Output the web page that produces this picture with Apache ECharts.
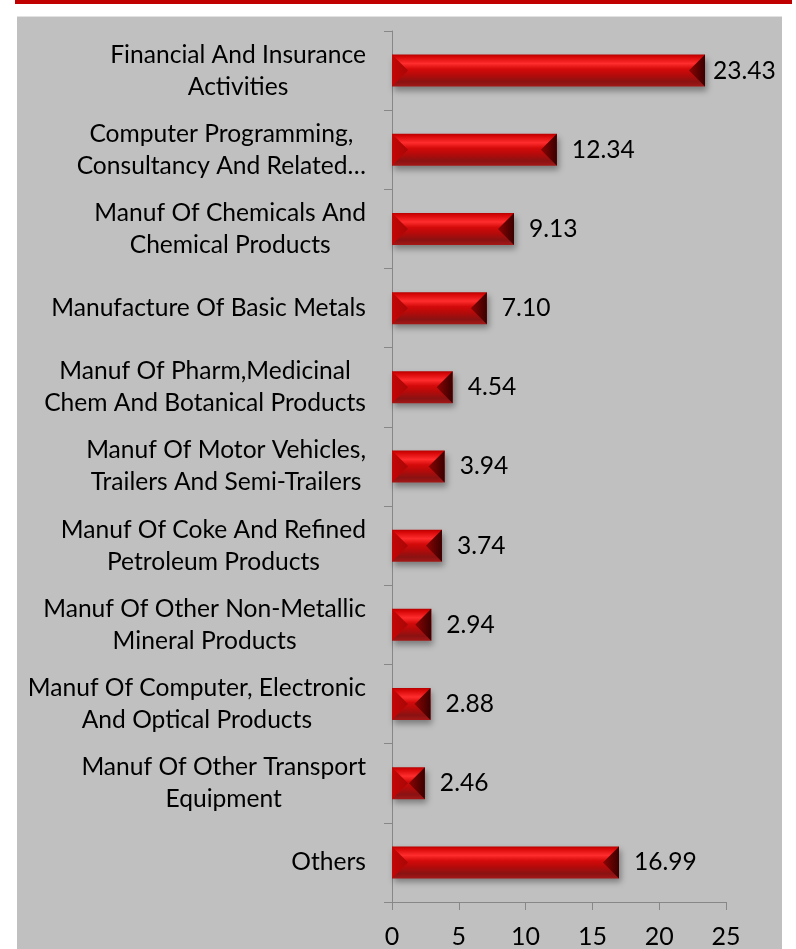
<!DOCTYPE html>
<html>
<head>
<meta charset="utf-8">
<script src="https://cdn.jsdelivr.net/npm/echarts@6/dist/echarts.min.js"></script>
<style>
  html, body { margin: 0; padding: 0; background: #ffffff; }
  #wrap { position: relative; width: 796px; height: 949px; overflow: hidden; }
  #topband { position: absolute; left: 15px; top: 0; width: 777px; height: 4px; background: #c00000; }
  #panel { position: absolute; left: 17px; top: 16px; width: 765px; height: 933px; background: #c0c0c0; border-top: 1px solid #e2e2e2; box-sizing: border-box; }
  #chart { position: absolute; left: 0; top: 0; width: 796px; height: 949px; }
</style>
</head>
<body>
<div id="wrap">
  <div id="topband"></div>
  <div id="panel"></div>
  <div id="chart"></div>
</div>
<script>
// Sectors, top to bottom
const categories = [
  "Financial And Insurance\nActivities",
  "Computer Programming,\nConsultancy And Related…",
  "Manuf Of Chemicals And\nChemical Products",
  "Manufacture Of Basic Metals",
  "Manuf Of Pharm,Medicinal\nChem And Botanical Products",
  "Manuf Of Motor Vehicles,\nTrailers And Semi-Trailers",
  "Manuf Of Coke And Refined\nPetroleum Products",
  "Manuf Of Other Non-Metallic\nMineral Products",
  "Manuf Of Computer, Electronic\nAnd Optical Products",
  "Manuf Of Other Transport\nEquipment",
  "Others"
];

// Share of each sector
const shares = [23.43, 12.34, 9.13, 7.10, 4.54, 3.94, 3.74, 2.94, 2.88, 2.46, 16.99];

// Value axis ticks
const axisMin = 0;
const axisMax = 25;
const axisStep = 5;

const FONT = 'Lato';
const FS = 24.6;
const BAR_H = 32;

const chart = echarts.init(document.getElementById('chart'), null, { renderer: 'canvas' });

const barFill = new echarts.graphic.LinearGradient(0, 0, 0, 1, [
  { offset: 0.00, color: '#b80000' },
  { offset: 0.08, color: '#d80808' },
  { offset: 0.28, color: '#ff2d2d' },
  { offset: 0.45, color: '#d40a0a' },
  { offset: 0.62, color: '#b80a0a' },
  { offset: 0.85, color: '#8a1212' },
  { offset: 1.00, color: '#a41818' }
]);

// Bevelled end caps on each bar
function renderCaps(params, api) {
  const v = api.value(0);
  const c = api.value(1);
  const p0 = api.coord([0, c]);
  const p1 = api.coord([v, c]);
  const half = BAR_H / 2;
  const yc = p0[1];
  const y0 = yc - half, y1 = yc + half;
  const x0 = p0[0], x1 = p1[0];
  const b = Math.min(half, (x1 - x0) / 2);
  return {
    type: 'group',
    children: [
      {
        type: 'polygon',
        shape: { points: [[x0, y0], [x0 + b, yc], [x0, y1]] },
        style: {
          fill: new echarts.graphic.LinearGradient(0, 0, 1, 0, [
            { offset: 0, color: '#c40606' },
            { offset: 1, color: '#a80606' }
          ])
        }
      },
      {
        type: 'polygon',
        shape: { points: [[x1, y0], [x1 - b, yc], [x1, y1]] },
        style: {
          fill: new echarts.graphic.LinearGradient(0, 0, 1, 0, [
            { offset: 0, color: '#8c0404' },
            { offset: 1, color: '#3a0000' }
          ])
        }
      }
    ]
  };
}

function catLabel(value) {
  return value.split('\n').map(function (s) { return '{c|' + s + '}'; }).join('\n');
}

chart.setOption({
  animation: false,
  backgroundColor: 'transparent',
  grid: { left: 392, right: 70, top: 31, bottom: 47, containLabel: false },
  xAxis: {
    type: 'value',
    min: axisMin,
    max: axisMax,
    interval: axisStep,
    splitLine: { show: false },
    axisLine: { show: true, lineStyle: { color: '#878787', width: 1 } },
    axisTick: { show: true, length: 8, lineStyle: { color: '#878787' } },
    axisLabel: { color: '#000', fontFamily: FONT, fontSize: 25, margin: 22 }
  },
  yAxis: {
    type: 'category',
    data: categories,
    inverse: true,
    axisLine: { show: true, lineStyle: { color: '#878787', width: 1 } },
    axisTick: { show: true, length: 8, alignWithLabel: false, lineStyle: { color: '#878787' } },
    axisLabel: {
      color: '#000',
      fontFamily: FONT,
      fontSize: FS,
      margin: 26,
      formatter: catLabel,
      rich: {
        c: { align: 'center', fontFamily: FONT, fontSize: FS, lineHeight: 32, color: '#000' }
      }
    }
  },
  series: [
    {
      type: 'bar',
      data: shares.map(function (v, i) {
        return { value: v, label: { distance: i === 0 ? 8 : 15 } };
      }),
      barWidth: BAR_H,
      itemStyle: {
        color: barFill,
        shadowColor: 'rgba(0,0,0,0.35)',
        shadowBlur: 6,
        shadowOffsetX: 2,
        shadowOffsetY: 4
      },
      label: {
        show: true,
        position: 'right',
        color: '#000',
        fontFamily: FONT,
        fontSize: FS,
        formatter: function (p) { return p.value.toFixed(2); }
      }
    },
    {
      type: 'custom',
      renderItem: renderCaps,
      data: shares.map(function (v, i) { return [v, i]; }),
      encode: { x: 0, y: 1 },
      silent: true,
      z: 3
    }
  ]
});
</script>
</body>
</html>
